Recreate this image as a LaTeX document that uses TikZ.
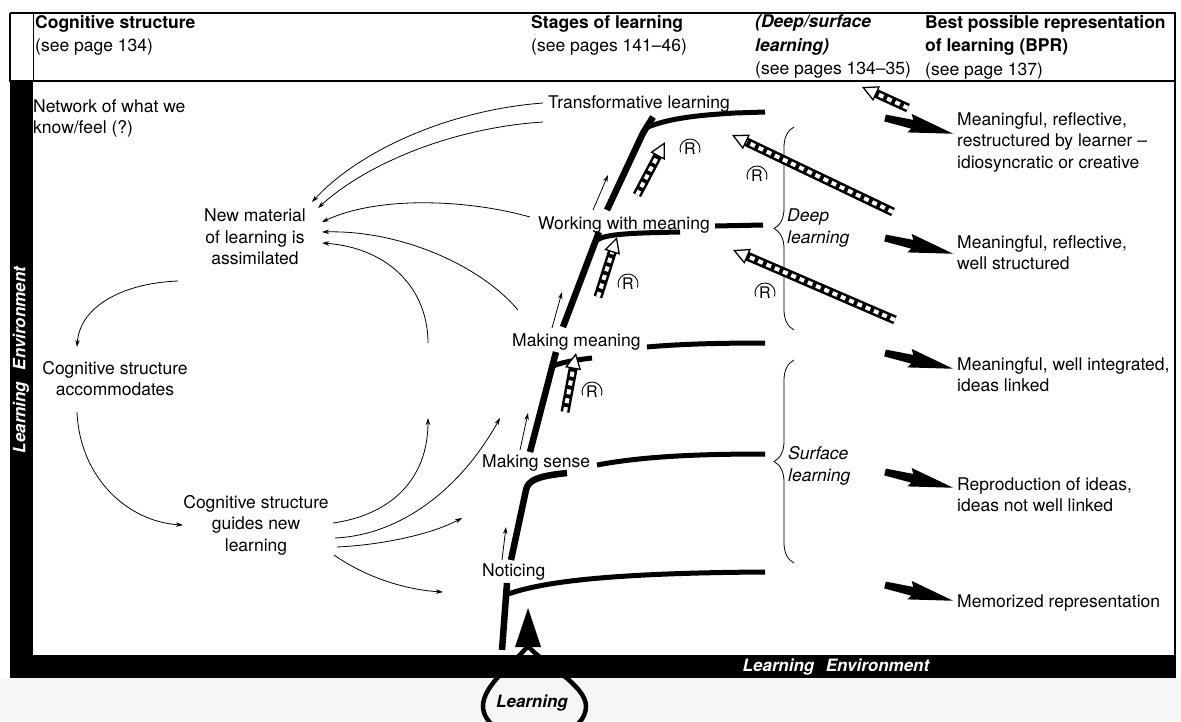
\documentclass[tikz,border=0pt]{standalone}
\usepackage{fontspec}
\setmainfont{TeX Gyre Heros}
\usetikzlibrary{arrows.meta,calc,decorations.pathreplacing}
\tikzset{
  fatarr/.pic={\fill (0,-3.5) -- (28,-4.5) -- (25,-10) -- (70,0) -- (25,9) -- (28,4.5) -- (0,3.5) -- cycle;}
}
\newcommand{\rarrow}[2]{%
  \draw[rshaft] (#1) -- ($(#2)!12pt!(#1)$);
  \draw[rdash] (#1) -- ($(#2)!12pt!(#1)$);
  \draw[rhead] ($(#2)!16pt!(#1)$) -- (#2);
}
\newcommand{\rmark}[2]{%
  \node[rsym] (#1) at (#2) {R};
  \draw[line width=0.9pt] (#1.center) ++(-200:10) arc[start angle=-200,end angle=20,radius=10];
}
\begin{document}
\begin{tikzpicture}[x=1pt,y=-1pt,
  body/.style={inner sep=0pt, font=\fontsize{17.5}{21.5}\selectfont},
  hdr/.style={inner sep=0pt, font=\fontsize{17.5}{23.5}\selectfont, align=left, anchor=north west},
  spine/.style={line width=6.5pt, line cap=butt},
  stagehook/.style={line width=5pt},
  thinarr/.style={line width=0.8pt, -{Stealth[length=7pt,width=4.5pt]}},
  rshaft/.style={line width=9pt},
  rdash/.style={line width=4pt, white, dash pattern=on 5pt off 4pt},
  rhead/.style={line width=1.3pt, -{Triangle[length=16pt,width=16pt,fill=white]}},
  rsym/.style={inner sep=0pt, font=\fontsize{16}{16}\selectfont},
  bracedeco/.style={decorate, decoration={brace, amplitude=20pt}, line width=0.8pt},
  envtxt/.style={inner sep=0pt, white, font=\fontsize{17}{17}\selectfont\bfseries\itshape},
]
\useasboundingbox (0,0) rectangle (1181,721);
\fill[white] (0,0) rectangle (1181,721);
\fill[gray!7] (0,678) rectangle (1181,721);

% frame
\draw[line width=1.2pt] (10,13) -- (1175,13) -- (1175,655);
\draw[line width=1.2pt] (10,13) -- (10,81) -- (1175,81);
\draw[line width=1pt] (33,13) -- (33,81);
\fill (10,81) rectangle (33,678);
\fill (10,655) rectangle (1176,678);
\node[envtxt, rotate=90] (envL) at (21,360) {Learning\hspace{0.4em} Environment};
\node[envtxt] (envB) at (836,667) {Learning\hspace{0.4em} Environment};

% header
\node[hdr] (h1) at (35,15) {\textbf{Cognitive structure}\\(see page 134)};
\node[hdr] (h2) at (531,15) {\textbf{Stages of learning}\\(see pages 141--46)};
\node[hdr] (h3) at (755,15) {\textbf{\textit{(Deep/surface}}\\\textbf{\textit{learning)}}\\(see pages 134--35)};
\node[hdr] (h4) at (925,15) {\textbf{Best possible representation}\\\textbf{of learning (BPR)}\\(see page 137)};

% left column texts
\node[body, align=left, anchor=north west] (net) at (33,99) {Network of what we\\know/feel (?)};
\node[body, align=center, anchor=north] (nm) at (255,209) {New material\\of learning is\\assimilated};
\node[body, align=center, anchor=north] (ca) at (115,361) {Cognitive structure\\accommodates};
\node[body, align=center, anchor=north] (cg) at (256,495) {Cognitive structure\\guides new\\learning};

% stage labels
\node[body, anchor=base west] (tl) at (548,108) {Transformative learning};
\node[body, anchor=base west] (wm) at (538,229) {Working with meaning};
\node[body, anchor=base west] (mm) at (512,346) {Making meaning};
\node[body, anchor=base west] (ms) at (482,467) {Making sense};
\node[body, anchor=base west] (no) at (482,576) {Noticing};

% deep / surface
\node[body, align=left, anchor=north west, font=\fontsize{17.5}{22}\selectfont\itshape] (deep) at (787,209) {Deep\\learning};
\node[body, align=left, anchor=north west, font=\fontsize{17.5}{22}\selectfont\itshape] (surf) at (788,446) {Surface\\learning};
\draw[bracedeco] (794,330) -- (794,127);
\draw[bracedeco] (794,563) -- (794,360);

% BPR texts
\node[body, align=left, anchor=north west] (b1) at (957,112) {Meaningful, reflective,\\restructured by learner --\\idiosyncratic or creative};
\node[body, align=left, anchor=north west] (b2) at (957,235) {Meaningful, reflective,\\well structured};
\node[body, align=left, anchor=north west] (b3) at (957,357) {Meaningful, well integrated,\\ideas linked};
\node[body, align=left, anchor=north west] (b4) at (957,477) {Reproduction of ideas,\\ideas not well linked};
\node[body, align=left, anchor=north west] (b5) at (957,595) {Memorized representation};

% fat arrows
\pic[rotate=-13] at (885,118) {fatarr};
\pic[rotate=-13] at (885,238) {fatarr};
\pic[rotate=-13] at (885,353) {fatarr};
\pic[rotate=-13] at (885,472) {fatarr};
\pic[rotate=-13] at (885,585) {fatarr};

% spine and stage lines
\draw[spine] (502,650) -- (507,583);
\draw[stagehook] (508,594) .. controls (540,583) and (600,573) .. (765,572);
\draw[spine] (511,560) -- (526,490) .. controls (528,480) and (538,476) .. (567,473);
\draw[stagehook] (597,465) .. controls (640,457) and (690,454) .. (765,454);
\draw[spine] (530,452) -- (556,352);
\draw[stagehook] (553,366) .. controls (563,362) and (575,360) .. (592,358);
\draw[stagehook] (647,347) .. controls (680,344) and (720,343) .. (765,343);
\draw[spine] (563,327) -- (599,232);
\draw[stagehook] (597,240) .. controls (606,234) and (630,233) .. (680,232);
\draw[stagehook] (715,226) -- (763,225);
\draw[spine] (607,210) -- (643,133) -- (653,117);
\draw[stagehook] (648,127) .. controls (670,118) and (700,115) .. (735,113) -- (765,112);

% stage progress arrows
\coordinate (p0a) at (502,560); \coordinate (p0b) at (506,527);
\coordinate (p1a) at (520,450); \coordinate (p1b) at (528,413);
\coordinate (p2a) at (552,328); \coordinate (p2b) at (562,292);
\coordinate (p3a) at (593,210); \coordinate (p3b) at (608,175);
\draw[thinarr] (p0a) -- (p0b);
\draw[thinarr] (p1a) -- (p1b);
\draw[thinarr] (p2a) -- (p2b);
\draw[thinarr] (p3a) -- (p3b);

% arrows to "New material"
\coordinate (n1) at (312,202); \coordinate (n2) at (318,208);
\coordinate (n3) at (322,222); \coordinate (n4) at (322,232); \coordinate (n5) at (322,243);
\coordinate (s1) at (543,103); \coordinate (s2) at (543,122);
\coordinate (s3) at (530,217); \coordinate (s4) at (518,310); \coordinate (s5) at (428,343);
\draw[thinarr] (s1) .. controls (450,110) and (360,150) .. (n1);
\draw[thinarr] (s2) .. controls (450,128) and (365,165) .. (n2);
\draw[thinarr] (s3) .. controls (470,200) and (380,195) .. (n3);
\draw[thinarr] (s4) .. controls (480,265) and (400,230) .. (n4);
\draw[thinarr] (s5) .. controls (428,290) and (390,248) .. (n5);

% cycle arrows
\coordinate (c1a) at (178,281); \coordinate (c1b) at (77,347);
\coordinate (c2a) at (77,412); \coordinate (c2b) at (183,525);
\draw[thinarr] (c1a) .. controls (125,283) and (80,305) .. (c1b);
\draw[thinarr] (c2a) .. controls (80,480) and (130,522) .. (c2b);

% arrows from "guides new learning"
\coordinate (g1a) at (333,523); \coordinate (g1b) at (428,418);
\coordinate (g2a) at (335,538); \coordinate (g2b) at (500,418);
\coordinate (g3a) at (337,547); \coordinate (g3b) at (462,518);
\coordinate (g4a) at (334,555); \coordinate (g4b) at (443,592);
\draw[thinarr] (g1a) .. controls (390,515) and (428,480) .. (g1b);
\draw[thinarr] (g2a) .. controls (400,535) and (460,490) .. (g2b);
\draw[thinarr] (g3a) .. controls (380,545) and (430,535) .. (g3b);
\draw[thinarr] (g4a) .. controls (370,580) and (410,590) .. (g4b);

% reflection arrows
\coordinate (r1t) at (565,412); \coordinate (r1h) at (576,353);
\coordinate (r2t) at (598,297); \coordinate (r2h) at (617,237);
\coordinate (r3t) at (637,195); \coordinate (r3h) at (665,142);
\coordinate (r4t) at (893,212); \coordinate (r4h) at (732,135);
\coordinate (r5t) at (895,320); \coordinate (r5h) at (733,250);
\coordinate (r6t) at (908,108); \coordinate (r6h) at (862,87);
\rarrow{r1t}{r1h}
\rarrow{r2t}{r2h}
\rarrow{r3t}{r3h}
\rarrow{r4t}{r4h}
\rarrow{r5t}{r5h}
\rarrow{r6t}{r6h}
\rmark{R1}{592,392}
\rmark{R2}{628,284}
\rmark{R3}{690,149}
\rmark{R4}{757,176}
\rmark{R5}{765,293}

% learning droplet
\draw[line width=4.5pt] (528,646) .. controls (515,662) and (483,685) .. (483,706)
  .. controls (483,724) and (505,738) .. (534,738)
  .. controls (565,738) and (586,724) .. (586,706)
  .. controls (586,685) and (541,662) .. (528,646);
\fill (515,647) -- (528,608) -- (541,647) -- cycle;
\node[body, font=\fontsize{17}{17}\selectfont\bfseries\itshape] (lrn) at (532,703) {Learning};
\end{tikzpicture}
\end{document}
